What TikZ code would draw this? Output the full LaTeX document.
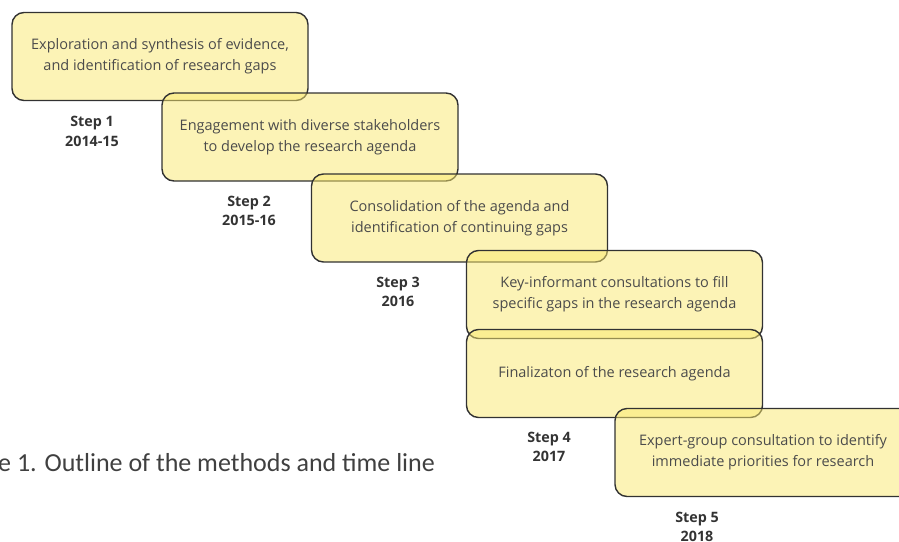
\documentclass[tikz,border=0pt]{standalone}
\usepackage{fontspec}
\setmainfont{Open Sans}
\newfontfamily\capfont{Carlito}
\usetikzlibrary{positioning}
\definecolor{boxfill}{RGB}{250,232,110}
\definecolor{boxline}{RGB}{50,50,50}
\definecolor{boxtext}{RGB}{75,75,75}

\begin{document}
\begin{tikzpicture}[
    x=1pt, y=-1pt,
    every node/.style={inner sep=0pt},
    stage/.style={draw=boxline, line width=1.4pt, rounded corners=12pt, fill=boxfill, fill opacity=0.5, text opacity=1,
        minimum width=296pt, minimum height=88pt, align=center, text=boxtext, font=\fontsize{14.5}{21}\selectfont},
    when/.style={align=center, text=black!80, font=\fontsize{14.3}{19.5}\selectfont\bfseries},
]
    \useasboundingbox (0,0) rectangle (899,541);
    \clip (0,0) rectangle (899,541);

    % Steps from top left to bottom right
    \node[stage] (explore) at (160,56.5) {Exploration and synthesis of evidence,\\and identification of research gaps};
    \node[stage] (engage) at (310,137) {Engagement with diverse stakeholders\\to develop the research agenda};
    \node[stage] (consol) at (459.5,218) {Consolidation of the agenda and\\identification of continuing gaps};
    \node[stage] (keyinf) at (614.5,294.5) {Key-informant consultations to fill\\specific gaps in the research agenda};
    \node[stage] (final) at (614.5,373.5) {Finalizaton of the research agenda};
    \node[stage] (expert) at (763,452.5) {Expert-group consultation to identify\\immediate priorities for research};

    % Time line labels
    \node[when] (step1) at (92,131.5) {Step 1\\2014-15};
    \node[when] (step2) at (249,211) {Step 2\\2015-16};
    \node[when] (step3) at (398,292) {Step 3\\2016};
    \node[when] (step4) at (549,447) {Step 4\\2017};
    \node[when] (step5) at (697,527) {Step 5\\2018};

    % Caption
    \node[anchor=west, text=black!75, font=\capfont\fontsize{26}{30}\selectfont] (caption) at (-2,463) {e 1. Outline of the methods and time line};
\end{tikzpicture}
\end{document}
